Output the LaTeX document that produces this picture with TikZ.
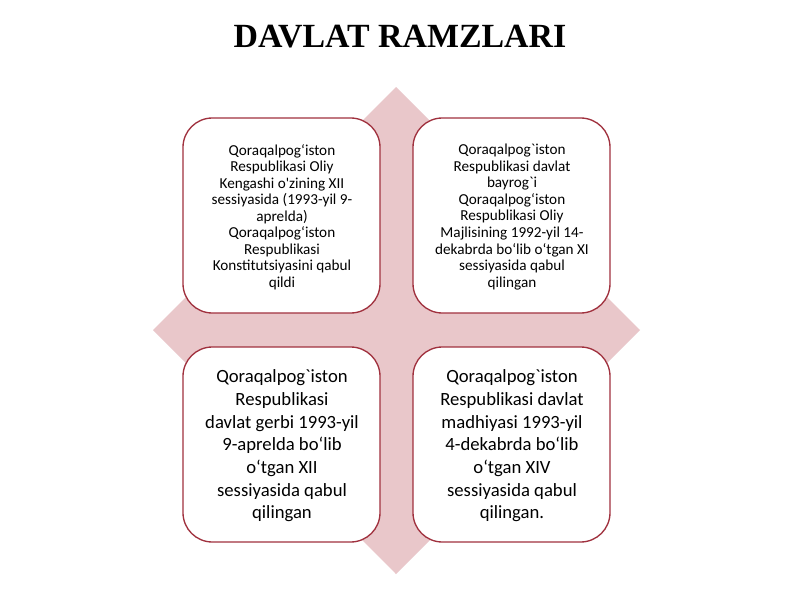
\documentclass[tikz,border=0pt]{standalone}
\usepackage{fontspec}
\setmainfont{Carlito}
\newfontfamily\cf{Carlito}
\newfontfamily\titlefont{Liberation Serif}
\definecolor{diam}{HTML}{E9C7CA}
\definecolor{boxline}{HTML}{A0313E}
\tikzset{
  card/.style={draw=boxline, line width=1pt, fill=white, rounded corners=22pt},
  smalltxt/.style={align=center, font=\cf\fontsize{11.4}{12.4}\selectfont, text=black},
  bigtxt/.style={align=center, font=\cf\fontsize{14}{17}\selectfont, text=black},
}
\begin{document}
\begin{tikzpicture}[x=0.75pt,y=-0.75pt]
\useasboundingbox (0,0) rectangle (800,600);
\fill[white] (0,0) rectangle (800,600);
\node (title) at (400,37) {\titlefont\bfseries\fontsize{25.4}{28}\selectfont DAVLAT RAMZLARI};
\fill[diam] (396,87) -- (640,330) -- (396,574) -- (153,330) -- cycle;
\draw[card] (183,118) rectangle (380,313);
\draw[card] (413,118) rectangle (610,313);
\draw[card] (183,347) rectangle (380,542);
\draw[card] (413,347) rectangle (610,542);
\node[smalltxt] (tl) at (282,217) {Qoraqalpog‘iston\\Respublikasi Oliy\\Kengashi o'zining XII\\sessiyasida (1993-yil 9-\\aprelda)\\Qoraqalpog‘iston\\Respublikasi\\Konstitutsiyasini qabul\\qildi};
\node[smalltxt] (tr) at (512,217) {Qoraqalpog`iston\\Respublikasi davlat\\bayrog`i\\Qoraqalpog‘iston\\Respublikasi Oliy\\Majlisining 1992-yil 14-\\dekabrda bo‘lib o‘tgan XI\\sessiyasida qabul\\qilingan};
\node[bigtxt] (bl) at (282,446) {Qoraqalpog`iston\\Respublikasi\\davlat gerbi 1993-yil\\9-aprelda bo‘lib\\o‘tgan XII\\sessiyasida qabul\\qilingan};
\node[bigtxt] (br) at (512,446) {Qoraqalpog`iston\\Respublikasi davlat\\madhiyasi 1993-yil\\4-dekabrda bo‘lib\\o‘tgan XIV\\sessiyasida qabul\\qilingan.};
\end{tikzpicture}
\end{document}
